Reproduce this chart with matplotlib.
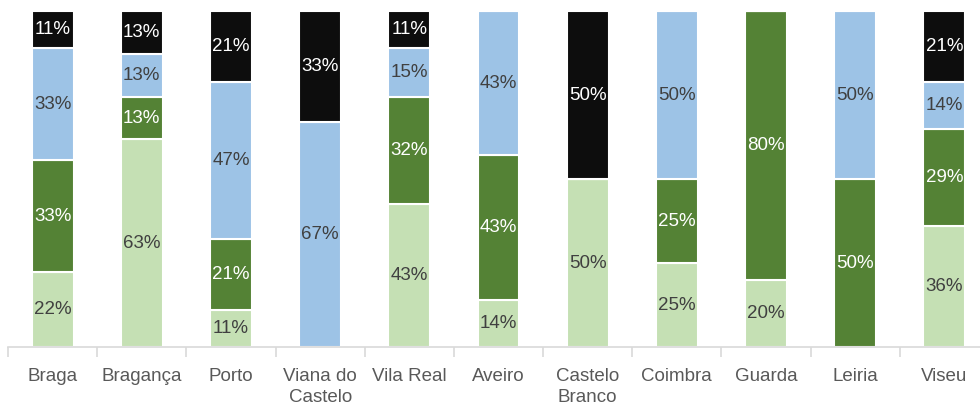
import numpy as np
import matplotlib.pyplot as plt

plt.rcParams['font.family'] = ['Liberation Sans', 'DejaVu Sans']

distritos = ['Braga', 'Bragança', 'Porto', 'Viana do\nCastelo', 'Vila Real', 'Aveiro',
             'Castelo\nBranco', 'Coimbra', 'Guarda', 'Leiria', 'Viseu']

# percentagens por categoria (de baixo para cima)
verde_claro = [22, 63, 11, 0, 43, 14, 50, 25, 20, 0, 36]
verde_escuro = [33, 13, 21, 0, 32, 43, 0, 25, 80, 50, 29]
azul = [33, 13, 47, 67, 15, 43, 0, 50, 0, 50, 14]
preto = [11, 13, 21, 33, 11, 0, 50, 0, 0, 0, 21]

series = [verde_claro, verde_escuro, azul, preto]
cores = ['#c5e0b4', '#548235', '#9dc3e6', '#0d0d0d']
cores_texto = ['#404040', 'white', '#404040', 'white']

dados = np.array(series, dtype=float)
totais = dados.sum(axis=0)
frac = dados / totais

fig = plt.figure(figsize=(9.8, 4.09), dpi=100)
ax = fig.add_axes([8 / 980, 62 / 409, 981 / 980, 336 / 409])

x = np.arange(len(distritos))
base = np.zeros(len(distritos))
for vals, pct, cor, ct in zip(frac, dados, cores, cores_texto):
    ax.bar(x, vals, bottom=base, width=0.47, color=cor, edgecolor='white', linewidth=1.5)
    for i in range(len(distritos)):
        if pct[i] > 0:
            ax.text(x[i], base[i] + vals[i] / 2, f'{int(pct[i])}%', ha='center', va='center',
                    color=ct, fontsize=13.5)
    base += vals

ax.set_xlim(-0.5, len(distritos) - 0.5)
ax.set_ylim(0, 1)
ax.set_yticks([])
for s in ['top', 'right', 'left']:
    ax.spines[s].set_visible(False)
ax.spines['bottom'].set_color('#d9d9d9')
ax.spines['bottom'].set_linewidth(1.2)

ax.set_xticks(x)
ax.set_xticklabels(distritos, fontsize=13.5, color='#595959', va='top', linespacing=1.3)
ax.tick_params(axis='x', length=0, pad=15)
ax.set_xticks(np.arange(-0.5, len(distritos)), minor=True)
ax.tick_params(axis='x', which='minor', length=7, color='#d9d9d9', width=1.2)

fig.savefig('out.png', dpi=100)
